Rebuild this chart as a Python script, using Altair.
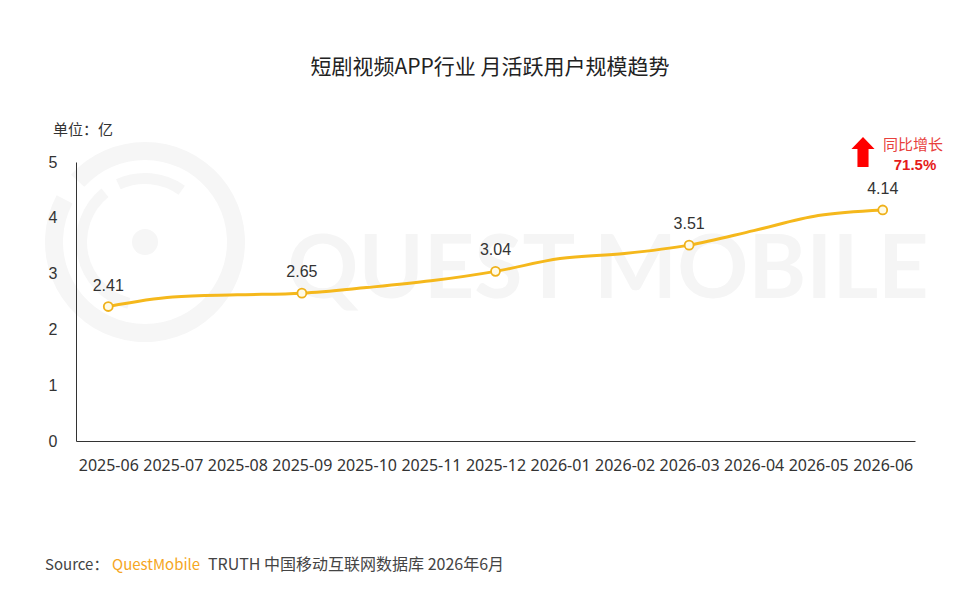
import altair as alt
import pandas as pd

months = ["2025-06", "2025-07", "2025-08", "2025-09", "2025-10", "2025-11", "2025-12",
          "2026-01", "2026-02", "2026-03", "2026-04", "2026-05", "2026-06"]
values = [2.41, 2.58, 2.62, 2.65, 2.75, 2.87, 3.04, 3.27, 3.36, 3.51, 3.77, 4.04, 4.14]
label_months = ["2025-06", "2025-09", "2025-12", "2026-03", "2026-06"]
y_ticks = [0, 1, 2, 3, 4, 5]

title_text = "短剧视频APP行业 月活跃用户规模趋势"
unit_text = "单位：亿"
yoy_label = "同比增长"
yoy_value = "71.5%"
source_a = "Source："
source_b = "QuestMobile"
source_c = "TRUTH 中国移动互联网数据库 2026年6月"
watermark = "QUEST MOBILE"

df = pd.DataFrame({"month": months, "value": values})
df["label"] = [f"{v:.2f}" if m in label_months else "" for m, v in zip(months, values)]
lab = df[df["label"] != ""]

W, H = 839, 279
OX, OY = 76, 162  # plot origin in page coords

xs = alt.X("month:N", sort=months, scale=alt.Scale(padding=0.5),
           axis=alt.Axis(title=None, labelAngle=0, ticks=False, domainColor="#333333",
                         labelFontSize=16, labelColor="#333333", labelPadding=16,
                         labelFont="Noto Sans", grid=False, zindex=2))
ys = alt.Y("value:Q", scale=alt.Scale(domain=[0, 5], nice=False),
           axis=alt.Axis(title=None, values=y_ticks, ticks=False, grid=False,
                         domainColor="#333333", labelFontSize=16, labelColor="#333333",
                         labelPadding=19, labelFont="Liberation Sans", zindex=2))

one = pd.DataFrame({"k": [0]})

def txt(text, x, y, **kw):
    return alt.Chart(one).mark_text(text=text, **kw).encode(
        x=alt.value(x - OX), y=alt.value(y - OY))

LOGO = "#f6f6f6"
cx, cy = 145 - OX, 242 - OY
logo_outer = alt.Chart(one).mark_arc(radius=100, radius2=82, theta=0.0, theta2=5.2,
                                     color=LOGO).encode(x=alt.value(cx), y=alt.value(cy))
logo_outer2 = alt.Chart(one).mark_arc(radius=100, radius2=82, theta=5.45, theta2=6.2832,
                                      color=LOGO).encode(x=alt.value(cx), y=alt.value(cy))
logo_inner = alt.Chart(one).mark_arc(radius=69, radius2=58, theta=3.4, theta2=5.6,
                                     color=LOGO).encode(x=alt.value(cx), y=alt.value(cy))
logo_inner2 = alt.Chart(one).mark_arc(radius=69, radius2=58, theta=5.85, theta2=6.9,
                                      color=LOGO).encode(x=alt.value(cx), y=alt.value(cy))
logo_dot = alt.Chart(one).mark_arc(radius=13, theta=0, theta2=6.2832,
                                   color=LOGO).encode(x=alt.value(cx), y=alt.value(cy))

wm = txt(watermark, 608, 272, fontSize=88, fontWeight="bold", font="Lato",
         color="#f5f5f5", align="center", baseline="middle")

line = alt.Chart(df).mark_line(color="#F5B81C", strokeWidth=3, interpolate="monotone").encode(x=xs, y=ys)
pts = alt.Chart(lab).mark_point(filled=True, size=80, fill="#FFFBE6", stroke="#EFB11B",
                                strokeWidth=1.8, opacity=1).encode(x=xs, y=ys)
labels = alt.Chart(lab).mark_text(dy=-21, fontSize=16, color="#333333",
                                  font="Liberation Sans").encode(x=xs, y=ys, text="label:N")

title = txt(title_text, 490, 68, fontSize=21, font="Noto Sans CJK SC",
            color="#222222", align="center", baseline="middle")
unit = txt(unit_text, 53, 130, fontSize=15, font="Noto Sans CJK SC", color="#333333",
           align="left", baseline="middle")

arrow_path = "M0,-1L0.77,-0.2L0.37,-0.2L0.37,1L-0.37,1L-0.37,-0.2L-0.77,-0.2Z"
arrow = alt.Chart(one).mark_point(shape=arrow_path, filled=True, size=900, color="#FF0000",
                                  opacity=1).encode(x=alt.value(863 - OX), y=alt.value(152 - OY))
yoy1 = txt(yoy_label, 883, 145, fontSize=15, font="Noto Sans CJK SC", color="#E8403C",
           align="left", baseline="middle")
yoy2 = txt(yoy_value, 915, 165, fontSize=15, fontWeight="bold", font="Liberation Sans",
           color="#E51A1A", align="center", baseline="middle")

src1 = txt(source_a, 45, 565, fontSize=15, font="Noto Sans CJK SC", color="#444444",
           align="left", baseline="middle")
src2 = txt(source_b, 112, 565, fontSize=15, font="Noto Sans CJK SC", color="#F5A623",
           align="left", baseline="middle")
src3 = txt(source_c, 208, 565, fontSize=16, font="Noto Sans CJK SC", color="#444444",
           align="left", baseline="middle")

chart = alt.layer(
    logo_outer, logo_outer2, logo_inner, logo_inner2, logo_dot, wm,
    line, pts, labels, title, unit, arrow, yoy1, yoy2, src1, src2, src3
).properties(
    width=W, height=H,
    padding={"left": OX - 8, "top": OY - 8, "right": 960 - 16 - (OX - 8) - W,
             "bottom": 590 - 16 - (OY - 8) - H},
    autosize=alt.AutoSizeParams(type="none"),
    background="white",
).configure_view(stroke=None)

chart.save("out.html", embed_options={"renderer": "svg", "actions": False})
